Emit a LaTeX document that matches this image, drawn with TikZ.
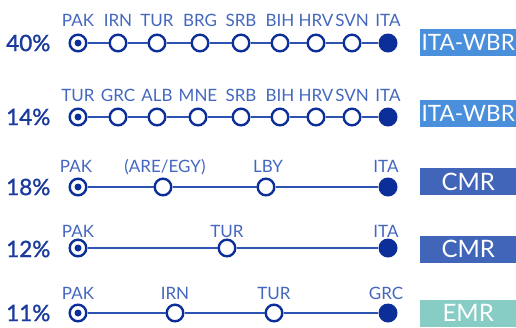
\documentclass[tikz,border=0pt]{standalone}
\usepackage{fontspec}
\setmainfont{Lato}
\newfontfamily\pctfont[FakeBold=1.4]{Lato}
\definecolor{dkblue}{HTML}{0B2E99}
\definecolor{lnblue}{HTML}{2E52B2}
\definecolor{txblue}{HTML}{4467BE}
\definecolor{pcblue}{HTML}{1A3B9C}
\definecolor{wbr}{HTML}{4A8FDB}
\definecolor{cmr}{HTML}{4165B8}
\definecolor{emr}{HTML}{87CCC5}
\tikzset{
 stopnode/.style={circle, draw=dkblue, line width=2.4pt, fill=white, minimum size=16.6pt, inner sep=0pt},
 origin/.style={stopnode, path picture={\fill[dkblue] (path picture bounding box.center) circle (3.5pt);}},
 dest/.style={circle, fill=dkblue, minimum size=19pt, inner sep=0pt},
 link/.style={lnblue, line width=1.5pt},
 code/.style={text=txblue, font=\fontsize{17}{17}\selectfont, anchor=base, inner sep=0pt},
 pct/.style={text=pcblue, font=\pctfont\fontsize{22.5}{22.5}\selectfont, anchor=west, inner sep=0pt},
 tag/.style={text=white, font=\fontsize{24}{24}\selectfont, minimum width=96pt, minimum height=27pt, inner sep=0pt, anchor=west},
}
\begin{document}
\begin{tikzpicture}[x=1pt,y=-1pt]
\useasboundingbox (0,0) rectangle (516,327);
\clip (0,0) rectangle (516,327);
% Row 1
\node[pct] (p1) at (6,43) {40\%};
\node[origin] (r1a) at (78,43) {};
\node[stopnode] (r1b) at (118,43) {};
\node[stopnode] (r1c) at (157,43) {};
\node[stopnode] (r1d) at (200,43) {};
\node[stopnode] (r1e) at (241,43) {};
\node[stopnode] (r1f) at (280,43) {};
\node[stopnode] (r1g) at (316,43) {};
\node[stopnode] (r1h) at (352,43) {};
\node[dest] (r1i) at (388,43) {};
\draw[link] (r1a) -- (r1b) -- (r1c) -- (r1d) -- (r1e) -- (r1f) -- (r1g) -- (r1h) -- (r1i);
\node[code] (l1a) at (78,26) {PAK};
\node[code] (l1b) at (118,26) {IRN};
\node[code] (l1c) at (157,26) {TUR};
\node[code] (l1d) at (200,26) {BRG};
\node[code] (l1e) at (241,26) {SRB};
\node[code] (l1f) at (280,26) {BIH};
\node[code] (l1g) at (316,26) {HRV};
\node[code] (l1h) at (352,26) {SVN};
\node[code] (l1i) at (388,26) {ITA};
\node[tag, fill=wbr, font=\fontsize{22.5}{22.5}\selectfont] (t1) at (420,42.5) {ITA-WBR};
% Row 2
\node[pct] (p2) at (6,117) {14\%};
\node[origin] (r2a) at (78,117) {};
\node[stopnode] (r2b) at (118,117) {};
\node[stopnode] (r2c) at (157,117) {};
\node[stopnode] (r2d) at (198,117) {};
\node[stopnode] (r2e) at (241,117) {};
\node[stopnode] (r2f) at (280,117) {};
\node[stopnode] (r2g) at (316,117) {};
\node[stopnode] (r2h) at (352,117) {};
\node[dest] (r2i) at (388,117) {};
\draw[link] (r2a) -- (r2b) -- (r2c) -- (r2d) -- (r2e) -- (r2f) -- (r2g) -- (r2h) -- (r2i);
\node[code] (l2a) at (78,101) {TUR};
\node[code] (l2b) at (118,101) {GRC};
\node[code] (l2c) at (157,101) {ALB};
\node[code] (l2d) at (198,101) {MNE};
\node[code] (l2e) at (241,101) {SRB};
\node[code] (l2f) at (280,101) {BIH};
\node[code] (l2g) at (316,101) {HRV};
\node[code] (l2h) at (352,101) {SVN};
\node[code] (l2i) at (388,101) {ITA};
\node[tag, fill=wbr, font=\fontsize{22.5}{22.5}\selectfont] (t2) at (420,113.5) {ITA-WBR};
% Row 3
\node[pct] (p3) at (6,187) {18\%};
\node[origin] (r3a) at (78,187) {};
\node[stopnode] (r3b) at (163,187) {};
\node[stopnode] (r3c) at (266,187) {};
\node[dest] (r3d) at (388,187) {};
\draw[link] (r3a) -- (r3b) -- (r3c) -- (r3d);
\node[code] (l3a) at (76,172) {PAK};
\node[code] (l3b) at (165,172) {(ARE/EGY)};
\node[code] (l3c) at (268,172) {LBY};
\node[code] (l3d) at (386,172) {ITA};
\node[tag, fill=cmr] (t3) at (420,181.5) {CMR};
% Row 4
\node[pct] (p4) at (6,249) {12\%};
\node[origin] (r4a) at (78,248) {};
\node[stopnode] (r4b) at (227,248) {};
\node[dest] (r4c) at (388,248) {};
\draw[link] (r4a) -- (r4b) -- (r4c);
\node[code] (l4a) at (78,237) {PAK};
\node[code] (l4b) at (227,237) {TUR};
\node[code] (l4c) at (386,237) {ITA};
\node[tag, fill=cmr] (t4) at (420,249) {CMR};
% Row 5
\node[pct] (p5) at (6,313) {11\%};
\node[origin] (r5a) at (78,313) {};
\node[stopnode] (r5b) at (175,313) {};
\node[stopnode] (r5c) at (274,313) {};
\node[dest] (r5d) at (388,313) {};
\draw[link] (r5a) -- (r5b) -- (r5c) -- (r5d);
\node[code] (l5a) at (78,299) {PAK};
\node[code] (l5b) at (175,299) {IRN};
\node[code] (l5c) at (274,299) {TUR};
\node[code] (l5d) at (386,299) {GRC};
\node[tag, fill=emr] (t5) at (420,313) {EMR};
\end{tikzpicture}
\end{document}
